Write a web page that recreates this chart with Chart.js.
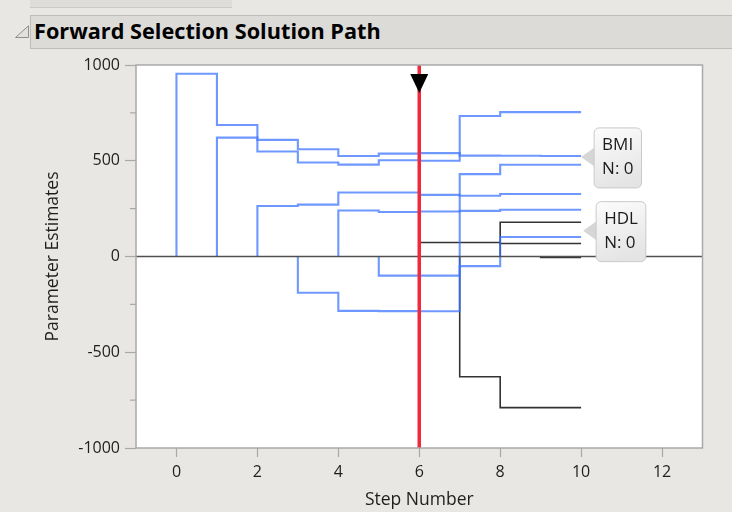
<!DOCTYPE html>
<html>
<head>
<meta charset="utf-8">
<script src="https://cdn.jsdelivr.net/npm/chart.js@4.4.1/dist/chart.umd.min.js"></script>
<style>
  html, body { margin: 0; padding: 0; background: #E8E7E3; }
  #wrap { position: relative; width: 732px; height: 512px; overflow: hidden; font-family: 'Open Sans', sans-serif; }
  #topband { position: absolute; left: 30px; top: 0; width: 202px; height: 7px; background: #DEDDDA; border-bottom: 1px solid #CACAC7; }
  #titlebar { position: absolute; left: 30px; top: 15px; width: 720px; height: 34px; box-sizing: border-box;
              background: #DCDBD8; border: 1px solid #BDBDBB; border-right: none; }
  #titlebar span { position: absolute; left: 3px; top: 0; line-height: 30px; font-size: 21.7px; font-weight: 700; color: #000; white-space: nowrap; }
  #disc { position: absolute; left: 14px; top: 25px; }
  #c { position: absolute; left: 0; top: 0; }
</style>
</head>
<body>
<div id="wrap">
  <div id="topband"></div>
  <svg id="disc" width="16" height="14" viewBox="0 0 16 14">
    <polygon points="14.5,0.8 14.5,12.5 1.5,12.5" fill="#E2E1DE" stroke="#8E8E8C" stroke-width="1" stroke-linejoin="round"/>
  </svg>
  <div id="titlebar"><span>Forward Selection Solution Path</span></div>
  <canvas id="c" width="732" height="512"></canvas>
</div>
<script>
// Step numbers of the forward selection path
const steps = [0, 1, 2, 3, 4, 5, 6, 7, 8, 9, 10];

// Parameter estimates after each step (0 until the term enters)
const bmi = [0, 954, 687, 609, 560, 525, 537, 540, 527, 526, 525];
const ltg = [0, 0, 621, 548, 491, 480, 503, 500, 734, 754, 754];
const bp  = [0, 0, 0, 264, 271, 334, 334, 322, 317, 326, 326];
const hdl = [0, 0, 0, 0, -189, -284, -285, -286, -50, 102, 102];
const sex = [0, 0, 0, 0, 0, 240, 232, 235, 238, 244, 244];
const ldl = [0, 0, 0, 0, 0, 0, -100, -100, 430, 479, 479];
const glu = [0, 0, 0, 0, 0, 0, 0, 73, 73, 68, 68];
const tc  = [0, 0, 0, 0, 0, 0, 0, 0, -628, -789, -789];
const tch = [0, 0, 0, 0, 0, 0, 0, 0, 0, 179, 179];
const age = [0, 0, 0, 0, 0, 0, 0, 0, 0, 0, -5];

const termNames = ['BMI', 'LTG', 'BP', 'HDL', 'Sex', 'LDL', 'Glucose', 'Total Cholesterol', 'TCH', 'Age'];
const termValues = [bmi, ltg, bp, hdl, sex, ldl, glu, tc, tch, age];

// Terms in the model at the selected step
const currentStep = 6;
const selectedTerms = ['BMI', 'LTG', 'BP', 'HDL', 'Sex', 'LDL'];

// Axis ticks
const xTicks = [0, 2, 4, 6, 8, 10, 12];
const yTicks = [-1000, -500, 0, 500, 1000];
const yMinorTicks = [-750, -250, 250, 750];

// Hover labels pinned on the path
const pinnedLabels = [
  { lines: ['BMI', 'N: 0'], x: 10, y: 520 },
  { lines: ['HDL', 'N: 0'], x: 10.05, y: 135 }
];

const FONT = "'Open Sans', sans-serif";
const BLUE = 'rgba(62, 118, 255, 0.75)';
const BLACK = 'rgba(15, 15, 15, 0.85)';

// a term sitting at zero before it enters is not drawn
const hideUnentered = ctx =>
  (ctx.p0.parsed.y === 0 && ctx.p1.parsed.y === 0) ? 'rgba(0,0,0,0)' : undefined;

const datasets = termNames.map((name, i) => ({
  label: name,
  data: steps.map((s, k) => ({ x: s, y: termValues[i][k] })),
  stepped: 'after',
  borderColor: selectedTerms.includes(name) ? BLUE : BLACK,
  borderWidth: selectedTerms.includes(name) ? 2.1 : 1.6,
  segment: { borderColor: hideUnentered },
  pointRadius: 0,
  fill: false
}));

const pathDecor = {
  id: 'pathDecor',
  beforeDraw(chart) {
    const { ctx, chartArea: a } = chart;
    ctx.save();
    ctx.fillStyle = '#FFFFFF';
    ctx.fillRect(a.left, a.top, a.right - a.left, a.bottom - a.top);
    ctx.restore();
  },
  afterDatasetsDraw(chart) {
    const { ctx, chartArea: a } = chart;
    const xs = chart.scales.x, ys = chart.scales.y;
    ctx.save();

    // zero reference line
    const y0 = ys.getPixelForValue(0);
    ctx.strokeStyle = '#505050';
    ctx.lineWidth = 1.5;
    ctx.beginPath(); ctx.moveTo(a.left, y0); ctx.lineTo(a.right, y0); ctx.stroke();

    // selected step
    const xc = xs.getPixelForValue(currentStep);
    ctx.strokeStyle = '#F0293C';
    ctx.lineWidth = 3.5;
    ctx.beginPath(); ctx.moveTo(xc, a.top); ctx.lineTo(xc, a.bottom); ctx.stroke();

    // step handle
    ctx.fillStyle = '#000';
    ctx.beginPath();
    ctx.moveTo(xc - 9, a.top + 9);
    ctx.lineTo(xc + 9, a.top + 9);
    ctx.lineTo(xc, a.top + 28);
    ctx.closePath(); ctx.fill();

    // frame
    ctx.strokeStyle = '#A9A9A9';
    ctx.lineWidth = 1.5;
    ctx.strokeRect(a.left, a.top, a.right - a.left, a.bottom - a.top);

    // minor ticks on the estimate axis
    ctx.strokeStyle = '#A8A8A8';
    ctx.lineWidth = 1.2;
    yMinorTicks.forEach(v => {
      const y = ys.getPixelForValue(v);
      ctx.beginPath(); ctx.moveTo(a.left - 6, y); ctx.lineTo(a.left, y); ctx.stroke();
    });

    // pinned hover labels
    ctx.font = '17px ' + FONT;
    pinnedLabels.forEach(lab => {
      const tx = xs.getPixelForValue(lab.x), ty = ys.getPixelForValue(lab.y);
      const w = Math.max(...lab.lines.map(t => ctx.measureText(t).width)) + 16;
      const h = 60;
      const bx = tx + 13, by = ty - 29;
      ctx.fillStyle = '#D6D6D6';
      ctx.beginPath();
      ctx.moveTo(tx, ty); ctx.lineTo(bx + 1, ty - 10); ctx.lineTo(bx + 1, ty + 10);
      ctx.closePath(); ctx.fill();
      const g = ctx.createLinearGradient(bx, by, bx + w * 0.4, by + h);
      g.addColorStop(0, '#FCFCFC'); g.addColorStop(1, '#E4E4E4');
      ctx.beginPath();
      ctx.roundRect(bx, by, w, h, 5);
      ctx.fillStyle = g; ctx.fill();
      ctx.strokeStyle = '#CACACA'; ctx.lineWidth = 1; ctx.stroke();
      ctx.fillStyle = '#1C1C1C';
      ctx.textAlign = 'left'; ctx.textBaseline = 'alphabetic';
      lab.lines.forEach((t, i) => ctx.fillText(t, bx + 8, by + 22 + i * 24));
    });
    ctx.restore();
  }
};

function draw() {
  new Chart(document.getElementById('c'), {
    type: 'line',
    data: { datasets },
    options: {
      responsive: false,
      animation: false,
      events: [],
      layout: { padding: { top: 65, right: 29.5, left: 0, bottom: 0 } },
      plugins: { legend: { display: false }, tooltip: { enabled: false } },
      scales: {
        x: {
          type: 'linear', min: -1, max: 13,
          afterBuildTicks: s => { s.ticks = xTicks.map(v => ({ value: v })); },
          afterFit: s => { s.height = 64; },
          grid: { drawOnChartArea: false, drawTicks: true, tickLength: 9, tickColor: '#A8A8A8', tickWidth: 1.2 },
          border: { display: false },
          ticks: { autoSkip: false, maxRotation: 0, padding: 6, color: '#1E1E1E', font: { family: FONT, size: 16 },
                   callback: v => String(v) },
          title: { display: true, text: 'Step Number', color: '#1E1E1E', font: { family: FONT, size: 17.5 },
                   padding: { top: 0, bottom: 1 } }
        },
        y: {
          type: 'linear', min: -1000, max: 1000,
          afterBuildTicks: s => { s.ticks = yTicks.map(v => ({ value: v })); },
          afterFit: s => { s.width = 136; },
          grid: { drawOnChartArea: false, drawTicks: true, tickLength: 11, tickColor: '#A8A8A8', tickWidth: 1.2 },
          border: { display: false },
          ticks: { autoSkip: false, padding: 5, color: '#1E1E1E', font: { family: FONT, size: 16 },
                   callback: v => String(v) },
          title: { display: true, text: 'Parameter Estimates', color: '#1E1E1E', font: { family: FONT, size: 17.5 },
                   padding: { top: 43, bottom: 0 } }
        }
      }
    },
    plugins: [pathDecor]
  });
}

if (document.fonts && document.fonts.load) {
  Promise.all([document.fonts.load("16px 'Open Sans'"), document.fonts.load("bold 21px 'Open Sans'")])
    .then(draw, draw);
} else {
  draw();
}
</script>
</body>
</html>
